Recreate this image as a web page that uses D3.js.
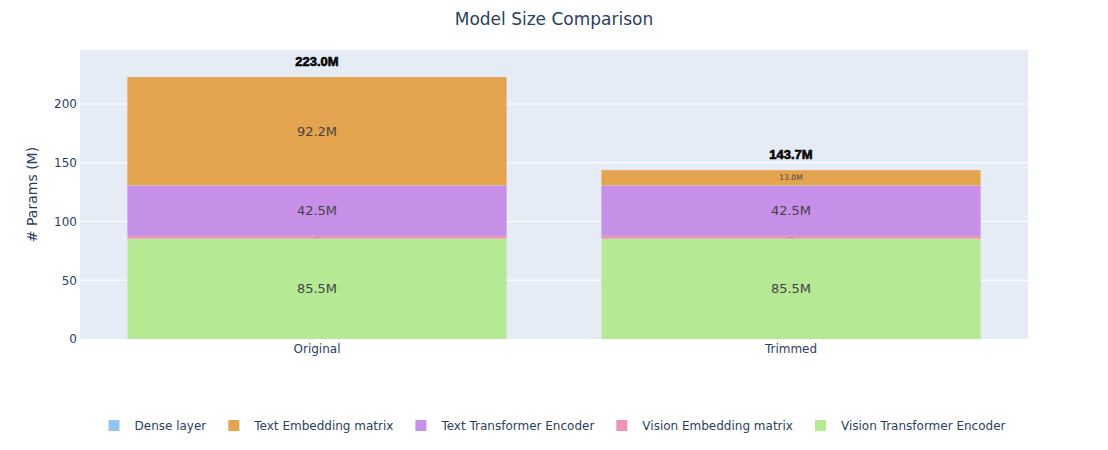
<!DOCTYPE html>
<html>
<head>
<meta charset="utf-8">
<script src="https://cdn.jsdelivr.net/npm/d3@7"></script>
<style>
  body { margin: 0; background: #fff; }
  text { font-family: "DejaVu Sans", verdana, arial, sans-serif; }
</style>
</head>
<body>
<div id="chart"></div>
<script>
// data
const models = ["Original", "Trimmed"];
const layers = ["Vision Transformer Encoder", "Vision Embedding matrix", "Text Transformer Encoder", "Dense layer", "Text Embedding matrix"];
const legendOrder = ["Dense layer", "Text Embedding matrix", "Text Transformer Encoder", "Vision Embedding matrix", "Vision Transformer Encoder"];
const visionEncoder = [85.46, 85.46];
const visionEmbedding = [2.36, 2.36];
const textEncoder = [42.52, 42.52];
const denseLayer = [0.39, 0.39];
const textEmbedding = [92.23, 12.97];
const yTicks = [0, 50, 100, 150, 200];
const colors = {
    "Dense layer": "#94c5ec",
    "Text Embedding matrix": "#e4a34f",
    "Text Transformer Encoder": "#c690e9",
    "Vision Embedding matrix": "#ec93b6",
    "Vision Transformer Encoder": "#b6e994"
};

const FONT = '"DejaVu Sans", verdana, arial, sans-serif';
const W = 1108, H = 450;
const margin = {top: 50, right: 80, bottom: 111, left: 80};
const width = W - margin.left - margin.right;
const height = H - margin.top - margin.bottom;

// build rows for stacking
const rows = models.map((m, i) => ({
    model: m,
    "Vision Transformer Encoder": visionEncoder[i],
    "Vision Embedding matrix": visionEmbedding[i],
    "Text Transformer Encoder": textEncoder[i],
    "Dense layer": denseLayer[i],
    "Text Embedding matrix": textEmbedding[i]
}));
const totals = rows.map(r => d3.sum(layers, k => r[k]));

const svg = d3.select("#chart").append("svg")
    .attr("width", W)
    .attr("height", H);

svg.append("rect").attr("width", W).attr("height", H).attr("fill", "#fff");

const g = svg.append("g")
    .attr("transform", `translate(${margin.left},${margin.top})`);

g.append("rect")
    .attr("width", width).attr("height", height)
    .attr("fill", "#e5ecf6");

const x = d3.scaleBand().domain(models).range([0, width])
    .paddingInner(0.2).paddingOuter(0.1);
const y = d3.scaleLinear().domain([0, 246]).range([height, 0]);

// grid
g.selectAll(".grid").data(yTicks.filter(t => t > 0)).enter().append("line")
    .attr("x1", 0).attr("x2", width)
    .attr("y1", d => y(d)).attr("y2", d => y(d))
    .attr("stroke", "#fff").attr("stroke-width", 1);

// y axis
const yAxis = g.append("g").call(d3.axisLeft(y).tickValues(yTicks).tickSize(0).tickPadding(3));
yAxis.select(".domain").remove();
yAxis.selectAll("text").attr("fill", "#2a3f5f").style("font-size", "12px")
    .style("font-family", FONT);

// x axis
const xAxis = g.append("g").attr("transform", `translate(0,${height})`)
    .call(d3.axisBottom(x).tickSize(0).tickPadding(5));
xAxis.select(".domain").remove();
xAxis.selectAll("text").attr("fill", "#2a3f5f").style("font-size", "12px")
    .style("font-family", FONT);

// stacked bars
const stack = d3.stack().keys(layers)(rows);
const layerG = g.selectAll(".layer").data(stack).enter().append("g")
    .attr("fill", d => colors[d.key]);

layerG.selectAll("rect").data(d => d).enter().append("rect")
    .attr("x", d => x(d.data.model))
    .attr("width", x.bandwidth())
    .attr("y", d => y(d[1]))
    .attr("height", d => y(d[0]) - y(d[1]));

// inside labels, shrink to fit like plotly
layerG.selectAll("text").data(d => d.map(v => ({v: v, key: d.key}))).enter().append("text")
    .attr("x", d => x(d.v.data.model) + x.bandwidth() / 2)
    .attr("y", d => (y(d.v[0]) + y(d.v[1])) / 2)
    .attr("dy", "0.35em")
    .attr("text-anchor", "middle")
    .attr("fill", "#444")
    .style("font-size", d => {
        const h = y(d.v[0]) - y(d.v[1]);
        if (h >= 20) return "13px";
        return Math.max(h * 0.5, 1) + "px";
    })
    .text(d => {
        const val = d.v[1] - d.v[0];
        return val.toFixed(1) + "M";
    })
    .filter(d => (d.v[1] - d.v[0]) < 1).remove();

// total labels
g.selectAll(".total").data(rows).enter().append("text")
    .attr("x", d => x(d.model) + x.bandwidth() / 2)
    .attr("y", (d, i) => y(totals[i]) - 11)
    .attr("text-anchor", "middle")
    .style("font-family", '"Liberation Sans", Arial, sans-serif')
    .style("font-weight", "bold")
    .style("font-size", "13px")
    .attr("fill", "#000")
    .attr("stroke", "#000").attr("stroke-width", 0.6)
    .text((d, i) => totals[i].toFixed(1) + "M");

// title
svg.append("text")
    .attr("x", W / 2).attr("y", 25)
    .attr("text-anchor", "middle")
    .attr("fill", "#2a3f5f")
    .style("font-size", "17px")
    .text("Model Size Comparison");

// y title
svg.append("text")
    .attr("transform", `translate(37,${margin.top + height / 2}) rotate(-90)`)
    .attr("text-anchor", "middle")
    .attr("fill", "#2a3f5f")
    .style("font-size", "14px")
    .text("# Params (M)");

// legend
const legend = svg.append("g");
let lx = 0;
legendOrder.forEach(k => {
    const item = legend.append("g").attr("transform", `translate(${lx},0)`);
    item.append("rect").attr("x", 0).attr("y", -5).attr("width", 11).attr("height", 11)
        .attr("fill", colors[k]);
    const t = item.append("text").attr("x", 26).attr("y", 0).attr("dy", "0.4em")
        .attr("fill", "#2a3f5f").style("font-size", "12px").text(k);
    lx += 26 + t.node().getComputedTextLength() + 22;
});
const legW = lx - 22;
legend.attr("transform", `translate(${(W - legW) / 2 + 3},425)`);
</script>
</body>
</html>
